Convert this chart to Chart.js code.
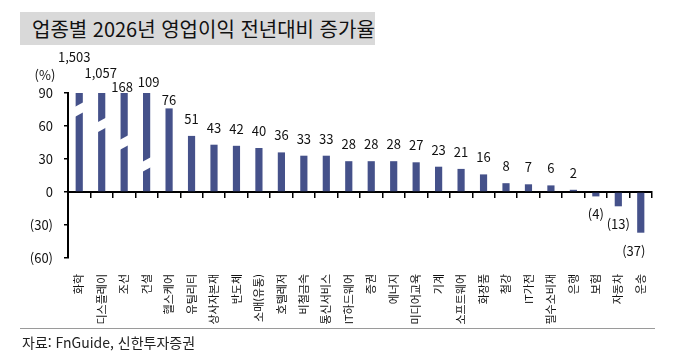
<!DOCTYPE html>
<html lang="ko">
<head>
<meta charset="utf-8">
<script src="https://cdn.jsdelivr.net/npm/chart.js@4.4.1/dist/chart.umd.min.js"></script>
<style>
  html, body { margin: 0; padding: 0; background: #fff; }
  #wrap { position: relative; width: 684px; height: 354px; overflow: hidden; font-family: "Noto Sans CJK KR", sans-serif; }
  #title { position: absolute; left: 20px; top: 12px; width: 355px; height: 33px; background: #d9d9d9;
           font-size: 20px; line-height: 33px; padding-left: 12px; box-sizing: border-box; color: #111; }
  #rule { position: absolute; left: 20px; top: 328px; width: 635px; height: 1px; background: #9a9a9a; }
  #source { position: absolute; left: 22px; top: 332px; font-size: 14px; line-height: 20px; color: #222; }
  canvas { position: absolute; left: 0; top: 0; }
</style>
</head>
<body>
<div id="wrap">
  <canvas id="chart" width="684" height="354"></canvas>
  <div id="title">업종별 2026년 영업이익 전년대비 증가율</div>
  <div id="rule"></div>
  <div id="source">자료: FnGuide, 신한투자증권</div>
</div>
<script>
// categories and values
const sectors = ['화학', '디스플레이', '조선', '건설', '헬스케어', '유틸리티', '상사자본재', '반도체',
  '소매(유통)', '호텔레저', '비철금속', '통신서비스', 'IT하드웨어', '증권', '에너지', '미디어교육',
  '기계', '소프트웨어', '화장품', '철강', 'IT가전', '필수소비재', '은행', '보험', '자동차', '운송'];
const growth = [1503, 1057, 168, 109, 76, 51, 43, 42, 40, 36, 33, 33, 28, 28, 28, 27, 23, 21, 16,
  8, 7, 6, 2, -4, -13, -37];
const yTicks = [90, 60, 30, 0, -30, -60];
// where the axis break is cut into the first (off-scale) bars, in % units
const breakLevels = [75, 61, 45, 25];

const barColor = '#45518a';
const fontFamily = '"Noto Sans CJK KR", sans-serif';

function fmt(v) {
  const s = Math.abs(v).toLocaleString('en-US');
  return v < 0 ? '(' + s + ')' : s;
}

// white slanted gaps on bars that run off the top of the axis
const breakPlugin = {
  id: 'breaks',
  afterDatasetsDraw(chart) {
    const ctx = chart.ctx;
    const meta = chart.getDatasetMeta(0);
    const y = chart.scales.y;
    ctx.save();
    ctx.fillStyle = '#fff';
    breakLevels.forEach((lvl, i) => {
      const bar = meta.data[i];
      const yc = y.getPixelForValue(lvl);
      const l = bar.x - bar.width / 2 - 1, r = bar.x + bar.width / 2 + 1;
      const gap = 5, slant = 2.5;
      ctx.beginPath();
      ctx.moveTo(l, yc + gap + slant);
      ctx.lineTo(r, yc + gap - slant);
      ctx.lineTo(r, yc - gap - slant);
      ctx.lineTo(l, yc - gap + slant);
      ctx.closePath();
      ctx.fill();
    });
    ctx.restore();
  }
};

// value labels over / under the bars, plus the (%) unit
const labelPlugin = {
  id: 'valueLabels',
  afterDraw(chart) {
    const ctx = chart.ctx;
    const meta = chart.getDatasetMeta(0);
    const area = chart.chartArea;
    // hand placed labels for the clipped bars and a few others
    const nudge = { 0: [-5, -36], 1: [-1, -20], 2: [-2, -6], 3: [2, -11] };
    ctx.save();
    ctx.font = '13px ' + fontFamily;
    ctx.fillStyle = '#111';
    ctx.textAlign = 'center';
    ctx.textBaseline = 'middle';
    growth.forEach((v, i) => {
      const bar = meta.data[i];
      let x = bar.x, yy;
      if (nudge[i]) {
        x += nudge[i][0];
        yy = area.top + nudge[i][1];
      } else if (v >= 0) {
        yy = bar.y - (i === 4 ? 8 : 17);
      } else {
        yy = bar.y + 18;
        if (i === growth.length - 1) x -= 7;
      }
      ctx.fillText(fmt(v), x, yy);
    });
    ctx.fillText('(%)', 45, 75);
    ctx.restore();
  }
};

const ctx = document.getElementById('chart').getContext('2d');
new Chart(ctx, {
  type: 'bar',
  data: {
    labels: sectors,
    datasets: [{
      data: growth,
      backgroundColor: barColor,
      borderWidth: 0,
      barPercentage: 0.32,
      categoryPercentage: 1
    }]
  },
  options: {
    responsive: false,
    devicePixelRatio: 1,
    animation: false,
    layout: { padding: { left: 0, right: 32, top: 93, bottom: 0 } },
    plugins: { legend: { display: false }, tooltip: { enabled: false } },
    scales: {
      x: {
        type: 'category',
        position: { y: 0 },
        offset: true,
        grid: { display: true, drawOnChartArea: false, drawTicks: true, tickLength: 5, color: '#000', lineWidth: 1.5, offset: true },
        border: { display: true, color: '#000', width: 2 },
        ticks: { display: false }
      },
      x2: {
        type: 'category',
        position: 'bottom',
        offset: true,
        grid: { display: false },
        border: { display: false },
        ticks: { autoSkip: false, maxRotation: 90, minRotation: 90, padding: 8, color: '#111',
                 font: { family: fontFamily, size: 11 } },
        afterFit: s => { s.height = 96; }
      },
      y: {
        min: -60,
        max: 90,
        afterBuildTicks: s => { s.ticks = yTicks.map(v => ({ value: v })); },
        grid: { drawOnChartArea: false, drawTicks: true, tickLength: 4, color: '#000', lineWidth: 1.5 },
        border: { display: true, color: '#000', width: 2 },
        ticks: { padding: 11, color: '#111', font: { family: fontFamily, size: 13 }, callback: v => fmt(v) },
        afterFit: s => { s.width = 68; }
      }
    }
  },
  plugins: [breakPlugin, labelPlugin]
});
</script>
</body>
</html>
